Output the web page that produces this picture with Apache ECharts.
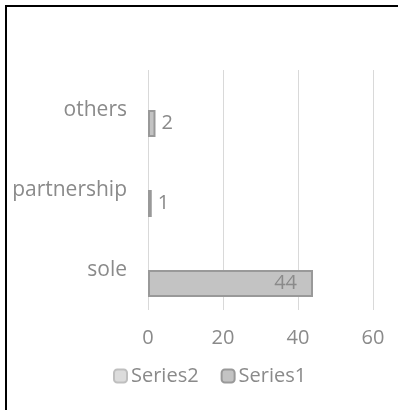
<!DOCTYPE html>
<html>
<head>
<meta charset="utf-8">
<script src="https://cdn.jsdelivr.net/npm/echarts@6/dist/echarts.min.js"></script>
<style>
	html, body { margin: 0; padding: 0; background: #fff; }
	#frame { position: absolute; left: 5px; top: 5px; width: 393px; height: 405px; border-left: 2px solid #000; border-top: 2px solid #000; }
	#chart { position: absolute; left: 0; top: 0; width: 398px; height: 410px; }
</style>
</head>
<body>
<div id="frame"></div>
<div id="chart"></div>
<script>
	var categories = ['sole', 'partnership', 'others'];
	var series1 = [44, 1, 2];
	var series2 = [null, null, null];
	var xTicks = [0, 20, 40, 60];

	var chart = echarts.init(document.getElementById('chart'));
	var grey = '#8a8a8a';
	var font = 'Open Sans';

	var option = {
		animation: false,
		grid: {
			left: 148,
			right: 25,
			top: 70,
			bottom: 100
		},
		legend: {
			data: ['Series2', 'Series1'],
			top: 361,
			left: 108,
			itemWidth: 13,
			itemHeight: 13,
			itemGap: 22,
			textStyle: { color: grey, fontSize: 20, fontFamily: font, padding: [0, 0, 0, -1] }
		},
		xAxis: {
			type: 'value',
			min: xTicks[0],
			max: xTicks[xTicks.length - 1],
			interval: 20,
			axisLine: { show: false },
			axisTick: { show: false },
			splitLine: { lineStyle: { color: '#d9d9d9', width: 1 } },
			axisLabel: { color: grey, fontSize: 20, fontFamily: font, margin: 18 }
		},
		yAxis: {
			type: 'category',
			data: categories,
			axisLine: { show: false },
			axisTick: { show: false },
			axisLabel: { color: grey, fontSize: 21, fontFamily: font, margin: 21, padding: [4, 0, 0, 0] }
		},
		series: [
			{
				name: 'Series2',
				type: 'bar',
				data: series2,
				barWidth: 27,
				barGap: '0%',
				itemStyle: { color: '#dcdcdc', borderColor: '#bfbfbf', borderWidth: 1 }
			},
			{
				name: 'Series1',
				type: 'bar',
				data: series1,
				barWidth: 27,
				barGap: '0%',
				itemStyle: { color: '#c3c3c3', borderColor: '#999999', borderWidth: 2 },
				label: {
					show: true,
					color: grey,
					fontSize: 20,
					fontFamily: font,
					position: 'right',
					distance: 6
				}
			}
		]
	};

	// the big bar carries its label inside the end, as in the picture
	option.series[1].data = series1.map(function (v) {
		if (v > 10) {
			return { value: v, label: { position: 'insideRight', distance: 16 } };
		}
		return v;
	});

	chart.setOption(option);
</script>
</body>
</html>
